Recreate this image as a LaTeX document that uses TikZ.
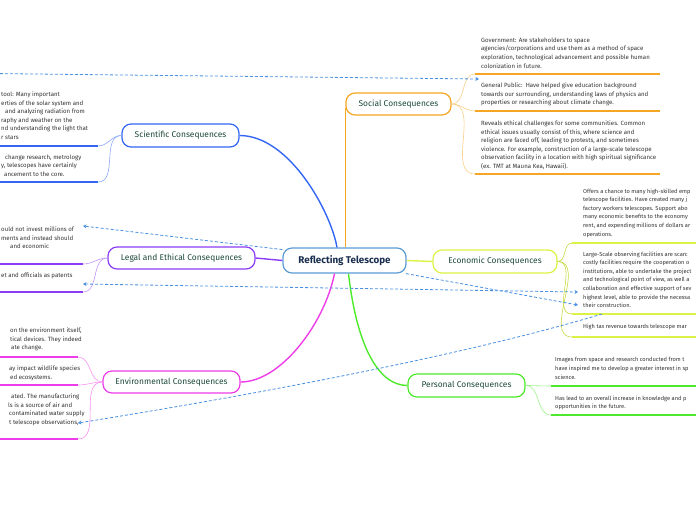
\documentclass[tikz,border=0pt]{standalone}
\usepackage{fontspec}
\setmainfont{Fira Sans}
\usetikzlibrary{arrows.meta}
\definecolor{cenC}{HTML}{5A9BD5}
\definecolor{cenT}{HTML}{1A2E4F}
\definecolor{topT}{HTML}{1D4A3A}
\definecolor{subT}{HTML}{333333}
\definecolor{sciC}{HTML}{3366F5}
\definecolor{socC}{HTML}{F5A623}
\definecolor{legC}{HTML}{8B3CF7}
\definecolor{ecoC}{HTML}{DCF245}
\definecolor{envC}{HTML}{EE3CE8}
\definecolor{perC}{HTML}{4CEA2A}
\definecolor{relC}{HTML}{4A90E2}
\tikzset{
  topic/.style={draw, line width=1.2pt, rounded corners=9pt, fill=white, text=topT,
    font=\fontsize{8.4}{10}\selectfont, inner sep=0pt, minimum height=23pt},
  subtxt/.style={anchor=north west, align=left, inner sep=0pt, text=subT,
    font=\fontsize{6.1}{8.6}\selectfont},
  subsmall/.style={subtxt, font=\fontsize{5.7}{8.6}\selectfont},
  uline/.style={line width=1.8pt},
  subcon/.style={line width=0.6pt},
  mainline/.style={line width=1.4pt},
  rel/.style={draw=relC, line width=0.8pt, dash pattern=on 3pt off 2pt},
  reltip/.style={-{Stealth[length=3.5pt,width=4pt]}}
}
\begin{document}
\begin{tikzpicture}[x=1pt,y=-1pt]
\useasboundingbox (0,0) rectangle (696,520);
\clip (0,0) rectangle (696,520);

% main topics
\node[topic, draw=cenC, text=cenT, minimum width=123pt, minimum height=25pt,
  font=\fontsize{9.8}{11}\selectfont\bfseries] (cen) at (344.5,260.5) {Reflecting Telescope};
\node[topic, draw=sciC, minimum width=117pt] (sci) at (180.5,135.5) {Scientific Consequences};
\node[topic, draw=socC, minimum width=105pt, minimum height=22pt] (soc) at (398.5,104) {Social Consequences};
\node[topic, draw=legC, minimum width=147pt, minimum height=22pt] (leg) at (181.5,258) {Legal and Ethical Consequences};
\node[topic, draw=ecoC, minimum width=124pt] (eco) at (495,261.5) {Economic Consequences};
\node[topic, draw=envC, minimum width=137pt, minimum height=22pt] (env) at (171.5,382) {Environmental Consequences};
\node[topic, draw=perC, minimum width=117pt] (per) at (466.5,385.5) {Personal Consequences};

% main connectors
\draw[mainline, sciC] (sci.east) .. controls +(50,0) and +(-6,-35) .. ([xshift=-7.5pt]cen.north);
\draw[mainline, socC] (soc.west |- cen.north) -- ([yshift=-4pt]soc.west);
\draw[mainline, legC] (cen.west) -- (leg.east);
\draw[mainline, ecoC] (cen.east) -- (eco.west);
\draw[mainline, envC] ([xshift=-10pt]cen.south) .. controls +(-10,50) and +(40,0) .. (env.east);
\draw[mainline, perC] ([xshift=4pt]cen.south) .. controls +(8,70) and +(-30,0) .. (per.west);

% ---------- Scientific subtopics ----------
\node[subtxt] (sciA) at (1,91.5) {tool: Many important\\erties of the solar system and\\\hspace*{4pt}and analyzing radiation from\\raphy and weather on the\\nd understanding the light that\\r stars};
\coordinate (sciA1) at (0,146); \coordinate (sciA2) at (98,146);
\node[subtxt] (sciB) at (1,154.5) {\hspace*{4pt}change research, metrology\\y, telescopes have certainly\\\hspace*{3pt}ancement to the core.};
\coordinate (sciB1) at (0,182); \coordinate (sciB2) at (98,182);
\draw[uline, sciC] (sciA1) -- (sciA2);
\draw[uline, sciC] (sciB1) -- (sciB2);
\draw[subcon, sciC!55] (sci.west) to[out=180,in=0] (sciA2);
\draw[subcon, sciC!55] (sci.west) to[out=180,in=0] (sciB2);

% ---------- Legal subtopics ----------
\node[subtxt] (legA) at (1,226.5) {ould not invest millions of\\ments and instead should\\\hspace*{9pt}and economic};
\coordinate (legA1) at (0,264); \coordinate (legA2) at (83,264);
\coordinate (legAr) at (83,226);
\node[subtxt] (legB) at (1,272.5) {et and officials as patents};
\coordinate (legB1) at (0,292); \coordinate (legB2) at (83,292);
\coordinate (legBr) at (83,284);
\draw[uline, legC] (legA1) -- (legA2);
\draw[uline, legC] (legB1) -- (legB2);
\draw[subcon, legC!55] (leg.west) to[out=180,in=0] (legA2);
\draw[subcon, legC!55] (leg.west) to[out=180,in=0] (legB2);

% ---------- Environmental subtopics ----------
\node[subtxt] (envA) at (1,327.5) {\hspace*{9pt}on the environment itself,\\\hspace*{9pt}tical devices. They indeed\\\hspace*{10pt}ate change.};
\coordinate (envA1) at (0,357); \coordinate (envA2) at (78,357);
\node[subtxt] (envB) at (1,365.5) {\hspace*{8pt}ay impact wildlife species\\\hspace*{9pt}ed ecosystems.};
\coordinate (envB1) at (0,385); \coordinate (envB2) at (78,385);
\node[subtxt] (envC) at (1,393.5) {\hspace*{10pt}ated. The manufacturing\\\hspace*{7pt}ls is a source of air and\\\hspace*{8pt}contaminated water supply\\\hspace*{8pt}t telescope observations,};
\coordinate (envC1) at (0,439); \coordinate (envC2) at (78,439);
\coordinate (envCr) at (78,423);
\draw[uline, envC] (envA1) -- (envA2);
\draw[uline, envC] (envB1) -- (envB2);
\draw[uline, envC] (envC1) -- (envC2);
\draw[subcon, envC!55] (env.west) to[out=180,in=0] (envA2);
\draw[subcon, envC!55] (env.west) to[out=180,in=0] (envB2);
\draw[subcon, envC!55] (env.west) to[out=180,in=0] (envC2);

% ---------- Social subtopics ----------
\node[subtxt] (socA) at (481,37.5) {Government: Are stakeholders to space\\agencies/corporations and use them as a method of space\\exploration, technological advancement and possible human\\colonization in future.};
\coordinate (socA1) at (475,74); \coordinate (socA2) at (660,74);
\node[subtxt] (socB) at (481,82.5) {General Public:\ \ Have helped give education background\\towards our surrounding, understanding laws of physics and\\properties or researching about climate change.};
\coordinate (socB1) at (475,111); \coordinate (socB2) at (660,111);
\coordinate (socBl) at (479,79);
\node[subtxt] (socC) at (481,120.5) {Reveals ethical challenges for some communities. Common\\ethical issues usually consist of this, where science and\\religion are faced off, leading to protests, and sometimes\\violence. For example, construction of a large-scale telescope\\observation facility in a location with high spiritual significance\\(ex. TMT at Mauna Kea, Hawaii).};
\coordinate (socC1) at (475,174); \coordinate (socC2) at (660,174);
\draw[uline, socC] (socA1) -- (socA2);
\draw[uline, socC] (socB1) -- (socB2);
\draw[uline, socC] (socC1) -- (socC2);
\draw[subcon, socC!55] (soc.east) to[out=0,in=180] (socA1);
\draw[subcon, socC!55] (soc.east) to[out=0,in=180] (socB1);
\draw[subcon, socC!55] (soc.east) to[out=0,in=180] (socC1);

% ---------- Economic subtopics ----------
\node[subsmall] (ecoA) at (583,188.5) {Offers a chance to many high-skilled emp\\telescope facilities. Have created many j\\factory workers telescopes. Support abo\\many economic benefits to the economy\\rent, and expending millions of dollars ar\\operations.};
\coordinate (ecoA1) at (572,243); \coordinate (ecoA2) at (700,243);
\node[subsmall] (ecoB) at (583,251.5) {Large-Scale observing facilities are scarc\\costly facilities require the cooperation o\\institutions, able to undertake the project\\and technological point of view, as well a\\collaboration and effective support of sev\\highest level, able to provide the necessa\\their construction.};
\coordinate (ecoB1) at (572,314); \coordinate (ecoB2) at (700,314);
\coordinate (ecoBl) at (578,292); \coordinate (ecoBm) at (578,305);
\coordinate (ecoBs) at (602,314);
\node[subsmall] (ecoC) at (583,323.5) {High tax revenue towards telescope mar};
\coordinate (ecoC1) at (572,337); \coordinate (ecoC2) at (700,337);
\draw[uline, ecoC] (ecoA1) -- (ecoA2);
\draw[uline, ecoC] (ecoB1) -- (ecoB2);
\draw[uline, ecoC] (ecoC1) -- (ecoC2);
\draw[subcon, ecoC!90!black] (eco.east) to[out=0,in=180] (ecoA1);
\draw[subcon, ecoC!90!black] (eco.east) to[out=0,in=180] (ecoB1);
\draw[subcon, ecoC!90!black] (eco.east) to[out=0,in=180] (ecoC1);

% ---------- Personal subtopics ----------
\node[subsmall] (perA) at (555,357.5) {Images from space and research conducted from t\\have inspired me to develop a greater interest in sp\\science.};
\coordinate (perA1) at (551,386); \coordinate (perA2) at (700,386);
\node[subsmall] (perB) at (555,395.5) {Has lead to an overall increase in knowledge and p\\opportunities in the future.};
\coordinate (perB1) at (551,415); \coordinate (perB2) at (700,415);
\draw[uline, perC] (perA1) -- (perA2);
\draw[uline, perC] (perB1) -- (perB2);
\draw[subcon, perC!55] (per.east) to[out=0,in=180] (perA1);
\draw[subcon, perC!55] (per.east) to[out=0,in=180] (perB1);

% ---------- relationship arrows ----------
\coordinate (relFree) at (-10,73.5);
\draw[rel, reltip] (relFree) -- (socBl);
\draw[rel, reltip] (cen.170) -- (legAr);
\draw[rel, {Stealth[length=3.5pt,width=4pt]}-{Stealth[length=3.5pt,width=4pt]}] (legBr) -- (ecoBl);
\draw[rel, reltip] (cen.-12) -- (ecoBm);
\draw[rel, reltip] (ecoBs) .. controls (452,359) and (228,399) .. (envCr);
\end{tikzpicture}
\end{document}
